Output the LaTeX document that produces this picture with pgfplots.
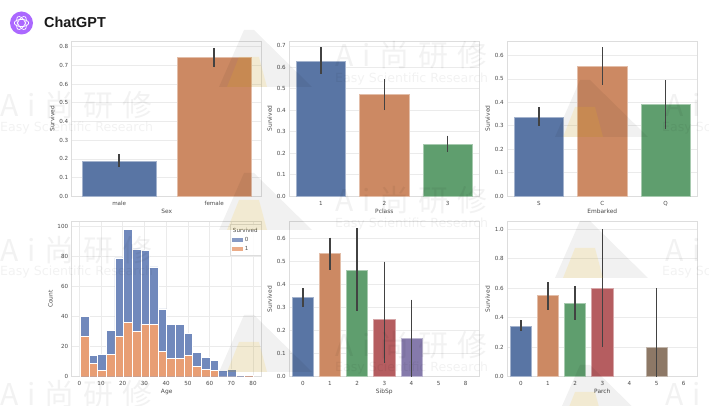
\documentclass[border=0pt]{standalone}
\usepackage{fontspec}
\setmainfont{DejaVu Sans}
\newfontfamily\cjk{Noto Sans CJK SC}
\newfontfamily\heads{Liberation Sans}
\usepackage{pgfplots}
\pgfplotsset{compat=1.18}
\definecolor{cA}{HTML}{5975A4}
\definecolor{cB}{HTML}{CC8963}
\definecolor{cC}{HTML}{5F9E6E}
\definecolor{cD}{HTML}{B55D60}
\definecolor{cE}{HTML}{857AAB}
\definecolor{cF}{HTML}{8D7866}
\definecolor{histB}{HTML}{7189BC}
\definecolor{histO}{HTML}{E89E74}
\definecolor{frame}{HTML}{DDDDDD}
\definecolor{gridc}{HTML}{EBEBEB}
\definecolor{txt}{HTML}{4A4A4A}
\definecolor{logo}{RGB}{171,104,255}
\pgfplotsset{
  base/.style={
    scale only axis, anchor=south west, width=190bp, height=155bp,
    axis line style={frame, line width=0.9bp},
    tick style={draw=none}, major tick length=0pt,
    ymajorgrids, grid style={gridc, line width=0.7bp},
    ticklabel style={font=\fontsize{5.6bp}{6bp}\selectfont, text=txt},
    label style={font=\fontsize{5.9bp}{6.5bp}\selectfont, text=txt},
    yticklabel style={/pgf/number format/fixed, /pgf/number format/fixed zerofill, /pgf/number format/precision=1, /pgf/number format/assume math mode=true},
    xticklabel style={/pgf/number format/assume math mode=true, yshift=-1.5bp},
    xlabel style={yshift=3.5bp}, ylabel style={yshift=-2bp},
    axis on top=false,
    clip=false,
  },
  sb/.style={ybar, bar width=0.78, bar shift=0pt, fill=#1, draw=#1!55!white, line width=0.7bp,
    error bars/y dir=both, error bars/y explicit, error bars/error mark=none,
    error bars/error bar style={color=black!74, line width=1.5bp}},
}
\newcommand{\wmbig}[3]{%
  \node[anchor=west, opacity=0.05, text=black, font=\cjk\fontsize{30bp}{32bp}\selectfont, inner sep=0pt] at ({#1},{406-#2}) {#3};
}
\newcommand{\wmsub}[3]{%
  \node[anchor=west, opacity=0.05, text=black, font=\fontsize{12.6bp}{14bp}\selectfont, inner sep=0pt] at ({#1},{406-#2}) {#3};
}
\newcommand{\wmtext}{A\hspace{9bp}i\hspace{9bp}尚\hspace{9bp}研\hspace{9bp}修}
\newcommand{\tri}[2]{%
  \fill[black, opacity=0.055] ({#1-10},{406-#2}) -- ({#1},{406-#2}) -- ({#1+58},{406-#2-57}) -- ({#1-35},{406-#2-57}) -- cycle;
  \fill[yellow!55!orange, opacity=0.13] ({#1-15},{406-#2-27}) -- ({#1+5},{406-#2-27}) -- ({#1+13},{406-#2-57}) -- ({#1-27},{406-#2-57}) -- cycle;
}
\begin{document}
\begin{tikzpicture}
\path[use as bounding box, fill=white] (0,0) rectangle (709bp,406bp);

% Top row
\begin{axis}[base, at={(71.7bp,209.7bp)}, xmin=-0.5, xmax=1.5, ymin=0, ymax=0.828,
  ytick={0,0.1,...,0.8}, xtick={0,1}, xticklabels={male,female}, xlabel={Sex}, ylabel={Survived}]
\addplot[sb=cA] coordinates {(0,0.188) += (0,0.036) -= (0,0.031)};
\addplot[sb=cB] coordinates {(1,0.742) += (0,0.051) -= (0,0.052)};
\end{axis}

\begin{axis}[base, at={(289.3bp,210bp)}, xmin=-0.5, xmax=2.5, ymin=0, ymax=0.723,
  ytick={0,0.1,...,0.7}, xtick={0,1,2}, xticklabels={1,2,3}, xlabel={Pclass}, ylabel={Survived}]
\addplot[sb=cA] coordinates {(0,0.63) += (0,0.065) -= (0,0.06)};
\addplot[sb=cB] coordinates {(1,0.473) += (0,0.072) -= (0,0.073)};
\addplot[sb=cC] coordinates {(2,0.242) += (0,0.04) -= (0,0.037)};
\end{axis}

\begin{axis}[base, at={(507.3bp,210bp)}, xmin=-0.5, xmax=2.5, ymin=0, ymax=0.662,
  ytick={0,0.1,...,0.6}, xtick={0,1,2}, xticklabels={S,C,Q}, xlabel={Embarked}, ylabel={Survived}]
\addplot[sb=cA] coordinates {(0,0.337) += (0,0.041) -= (0,0.037)};
\addplot[sb=cB] coordinates {(1,0.553) += (0,0.082) -= (0,0.078)};
\addplot[sb=cC] coordinates {(2,0.39) += (0,0.105) -= (0,0.105)};
\end{axis}

% Bottom row
\begin{axis}[base, at={(71.7bp,29.3bp)}, xmin=-3.5, xmax=84, ymin=0, ymax=103,
  xmajorgrids, ytick={0,20,...,100}, xtick={0,10,...,80}, xlabel={Age}, ylabel={Count},
  yticklabel style={/pgf/number format/precision=0, /pgf/number format/fixed zerofill=false},
  legend style={at={(0.998,0.985)}, anchor=north east, draw=frame, fill=white, fill opacity=0.85, text opacity=1,
    font=\fontsize{5.6bp}{6.5bp}\selectfont, text=txt, inner sep=1.5bp, row sep=-0.5bp, line width=0.5bp},
  legend cell align=left, legend image code/.code={\path[#1, draw=none] (0cm,-0.07cm) rectangle (0.38cm,0.07cm);}]
\addlegendimage{empty legend}\addlegendentry{\hspace{-12bp}Survived}
\addlegendimage{fill=histB}\addlegendentry{0}
\addlegendimage{fill=histO}\addlegendentry{1}
\addplot[ybar interval, fill=histB, draw=white, line width=0.4bp, forget plot] coordinates {
(0.42,40)(4.40,14)(8.38,15)(12.36,31)(16.34,79)(20.32,98)(24.30,85)(28.28,84)(32.26,73)(36.24,45)
(40.22,35)(44.20,35)(48.18,29)(52.16,16)(56.14,13)(60.12,11)(64.10,4)(68.08,5)(72.06,1)(76.04,1)(80.02,0)};
\addplot[ybar interval, fill=histO, draw=white, line width=0.4bp, forget plot] coordinates {
(0.42,27)(4.40,9)(8.38,4)(12.36,15)(16.34,27)(20.32,36)(24.30,30)(28.28,35)(32.26,35)(36.24,17)
(40.22,12)(44.20,12)(48.18,14)(52.16,7)(56.14,5)(60.12,4)(64.10,0)(68.08,0)(72.06,0)(76.04,1)(80.02,0)};
\end{axis}

\begin{axis}[base, at={(289.3bp,29.3bp)}, xmin=-0.5, xmax=6.5, ymin=0, ymax=0.674,
  ytick={0,0.1,...,0.6}, xtick={0,...,6}, xticklabels={0,1,2,3,4,5,8}, xlabel={SibSp}, ylabel={Survived}]
\addplot[sb=cA] coordinates {(0,0.345) += (0,0.04) -= (0,0.04)};
\addplot[sb=cB] coordinates {(1,0.535) += (0,0.07) -= (0,0.07)};
\addplot[sb=cC] coordinates {(2,0.464) += (0,0.181) -= (0,0.179)};
\addplot[sb=cD] coordinates {(3,0.25) += (0,0.25) -= (0,0.19)};
\addplot[sb=cE] coordinates {(4,0.167) += (0,0.168) -= (0,0.167)};
\end{axis}

\begin{axis}[base, at={(507.3bp,29.3bp)}, xmin=-0.5, xmax=6.5, ymin=0, ymax=1.05,
  ytick={0,0.2,...,1.0}, xtick={0,...,6}, xlabel={Parch}, ylabel={Survived}]
\addplot[sb=cA] coordinates {(0,0.343) += (0,0.042) -= (0,0.033)};
\addplot[sb=cB] coordinates {(1,0.55) += (0,0.09) -= (0,0.095)};
\addplot[sb=cC] coordinates {(2,0.5) += (0,0.115) -= (0,0.115)};
\addplot[sb=cD] coordinates {(3,0.6) += (0,0.4) -= (0,0.4)};
\addplot[sb=cF] coordinates {(5,0.2) += (0,0.4) -= (0,0.2)};
\end{axis}

% Heading
\fill[logo] (21.5bp,383bp) circle (11.5bp);
\foreach \a in {0,60,120}{
  \draw[white, line width=0.7bp, rotate around={\a:(21.5bp,383bp)}] (21.5bp,383bp) ellipse (7.2bp and 3.6bp);
}
\node[anchor=west, inner sep=0pt, font=\heads\bfseries\fontsize{14.4bp}{16bp}\selectfont, text=black!90] at (44bp,383.5bp) {ChatGPT};

% Watermarks
\begin{scope}[x=1bp,y=1bp]
\clip (0,0) rectangle (709,406);
\tri{254}{30}\tri{254}{173}\tri{254}{315}
\tri{590}{80}\tri{590}{221}\tri{590}{365}
\wmbig{0}{105}{\wmtext}\wmsub{0}{128}{Easy Scientific Research}
\wmbig{0}{250}{\wmtext}\wmsub{0}{272}{Easy Scientific Research}
\wmbig{0}{394}{\wmtext}
\wmbig{335}{55}{\wmtext}\wmsub{335}{79}{Easy Scientific Research}
\wmbig{335}{200}{\wmtext}\wmsub{335}{224}{Easy Scientific Research}
\wmbig{335}{345}{\wmtext}\wmsub{335}{368}{Easy Scientific Research}
\wmbig{665}{105}{A\hspace{9bp}i}\wmsub{662}{128}{Easy Sc}
\wmbig{665}{250}{A\hspace{9bp}i}\wmsub{662}{272}{Easy Sc}
\wmbig{665}{394}{A\hspace{9bp}i}
\end{scope}
\end{tikzpicture}
\end{document}
